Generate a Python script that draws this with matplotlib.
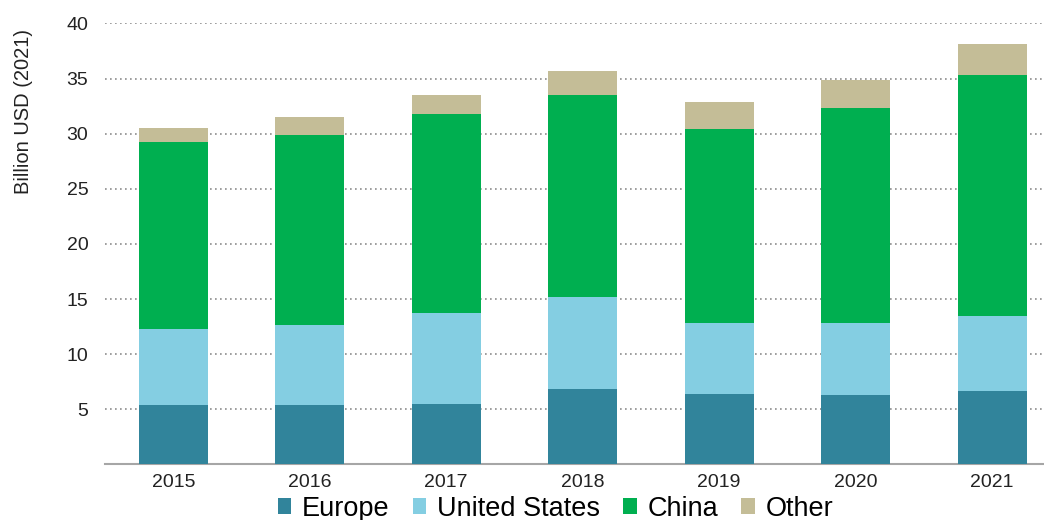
import numpy as np
import matplotlib.pyplot as plt
from matplotlib.patches import Patch

plt.rcParams['font.family'] = ['Liberation Sans', 'DejaVu Sans']

# Investment by region, billion USD (2021)
years = ['2015', '2016', '2017', '2018', '2019', '2020', '2021']
europe = [5.4, 5.4, 5.5, 6.85, 6.4, 6.27, 6.64]
united_states = [6.9, 7.25, 8.2, 8.35, 6.45, 6.58, 6.86]
china = [16.9, 17.25, 18.05, 18.35, 17.55, 19.5, 21.8]
other = [1.3, 1.6, 1.8, 2.15, 2.45, 2.5, 2.8]

series = [('Europe', europe, '#31849B'),
          ('United States', united_states, '#84CEE2'),
          ('China', china, '#00AF50'),
          ('Other', other, '#C4BD97')]

fig = plt.figure(figsize=(10.44, 5.2), dpi=100)
ax = fig.add_axes([0.1006, 0.107, 0.8994, 0.848])

x = np.arange(len(years))
bottom = np.zeros(len(years))
for name, vals, color in series:
    ax.bar(x, vals, width=0.506, bottom=bottom, color=color, label=name, zorder=3)
    bottom += np.array(vals)

ax.set_xlim(-0.5, 6.38)
ax.set_ylim(0, 40)
ax.set_yticks(range(5, 41, 5))
ax.set_xticks(x)
ax.set_xticklabels(years)
ax.yaxis.grid(True, linestyle=(0, (1, 2)), color='#8C8C8C', linewidth=1.2, zorder=0)
ax.tick_params(axis='y', length=0, pad=12, labelsize=14, labelcolor='#222222')
ax.tick_params(axis='x', length=0, pad=7, labelsize=14, labelcolor='#222222')

for side in ['top', 'right', 'left']:
    ax.spines[side].set_visible(False)
ax.spines['bottom'].set_color('#A6A6A6')
ax.spines['bottom'].set_linewidth(1.5)

ax.set_ylabel('Billion USD (2021)', fontsize=14.5, color='#222222')
ax.yaxis.set_label_coords(-0.077, 0.80)

handles = [Patch(facecolor=c, label=n) for n, _, c in series]
fig.legend(handles=handles, loc='lower center', bbox_to_anchor=(0.532, -0.024),
           ncol=4, frameon=False, fontsize=19.5, handlelength=0.5, handleheight=0.5,
           handletextpad=0.4, columnspacing=0.85, borderaxespad=0)

fig.savefig('out.png', dpi=100)
